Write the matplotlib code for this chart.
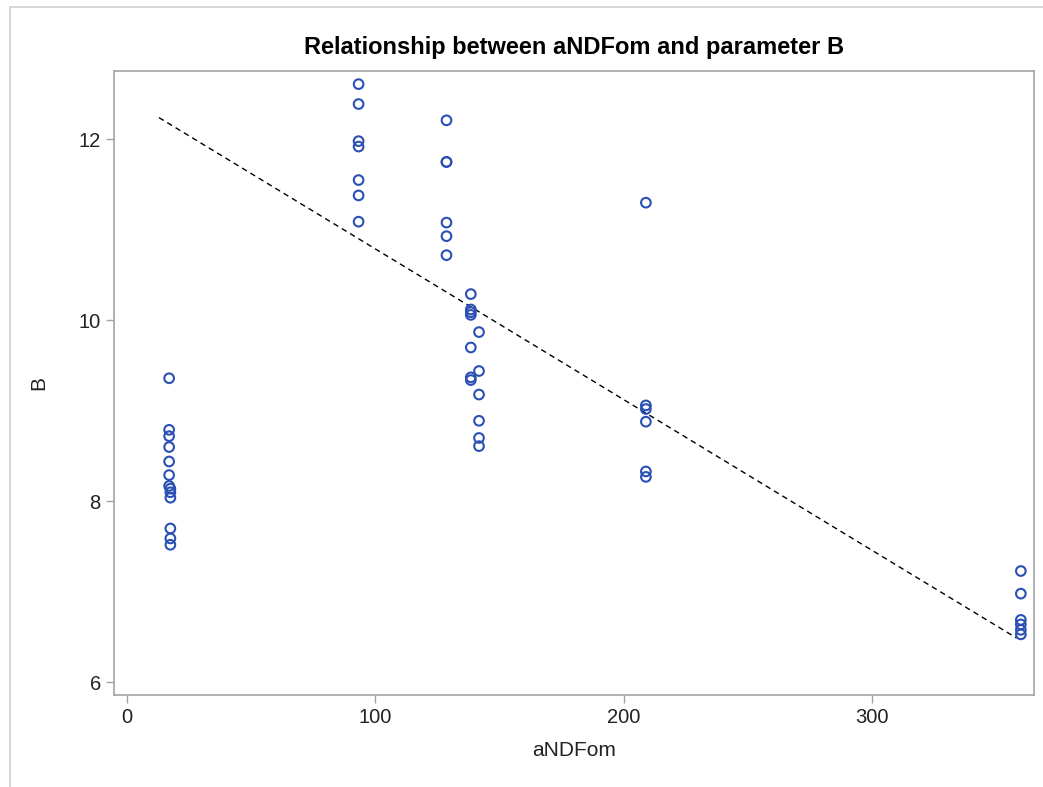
import matplotlib.pyplot as plt
from matplotlib.patches import Rectangle

plt.rcParams['font.family'] = ['Liberation Sans', 'DejaVu Sans']

# aNDFom (x) and parameter B (y)
andfom = [17.0, 17.0, 17.0, 17.0, 17.0, 17.0, 17.0, 17.5, 17.5, 17.5, 17.5, 17.5, 17.5,
          93.3, 93.3, 93.3, 93.3, 93.3, 93.3, 93.3,
          128.7, 128.7, 128.7, 128.7, 128.7, 128.7,
          138.5, 138.5, 138.5, 138.5, 138.5, 138.5, 138.5,
          141.8, 141.8, 141.8, 141.8, 141.8, 141.8,
          209.0, 209.0, 209.0, 209.0, 209.0, 209.0,
          360.0, 360.0, 360.0, 360.0, 360.0, 360.0]
b_param = [9.36, 8.79, 8.72, 8.60, 8.44, 8.29, 8.17, 8.14, 8.10, 8.04, 7.70, 7.59, 7.52,
           12.61, 12.39, 11.98, 11.92, 11.55, 11.38, 11.09,
           12.21, 11.75, 11.75, 11.08, 10.93, 10.72,
           10.29, 10.12, 10.09, 10.06, 9.70, 9.37, 9.34,
           9.87, 9.44, 9.18, 8.89, 8.70, 8.61,
           11.30, 9.06, 9.02, 8.88, 8.33, 8.27,
           7.23, 6.98, 6.69, 6.64, 6.58, 6.53]

# fitted line
fit_x = [12.9, 358.3]
fit_intercept = 12.455
fit_slope = -0.01665

fig = plt.figure(figsize=(10.43, 7.87), dpi=100)
ax = fig.add_axes([114 / 1043, 1 - 695 / 787, 920 / 1043, 624 / 787])

# outer frame like the SAS output
fig.patches.append(Rectangle((10 / 1043, -0.1), 1.2, 1 - 7 / 787 + 0.1, transform=fig.transFigure,
                             fill=False, edgecolor='#d0d0d0', linewidth=1.2))

ax.scatter(andfom, b_param, s=48, facecolors='none', edgecolors='#2a4fb5', linewidths=1.5, zorder=3)
fit_y = [fit_intercept + fit_slope * x for x in fit_x]
ax.plot(fit_x, fit_y, color='black', linestyle=(0, (4, 3)), linewidth=1.0, zorder=2)

ax.set_xlim(-5.2, 365.3)
ax.set_ylim(5.86, 12.755)
ax.set_xticks([0, 100, 200, 300])
ax.set_yticks([6, 8, 10, 12])

for s in ax.spines.values():
    s.set_color('#a0a4a8')
    s.set_linewidth(1.2)
ax.tick_params(colors='#a0a4a8', labelcolor='#222222', labelsize=14.5, length=6, width=1.0)

ax.set_xlabel('aNDFom', fontsize=15, color='#222222', labelpad=10)
ax.set_ylabel('B', fontsize=15, color='#222222', labelpad=22)
ax.set_title('Relationship between aNDFom and parameter B', fontsize=17, fontweight='bold', pad=12)

fig.savefig('out.png', dpi=100)
